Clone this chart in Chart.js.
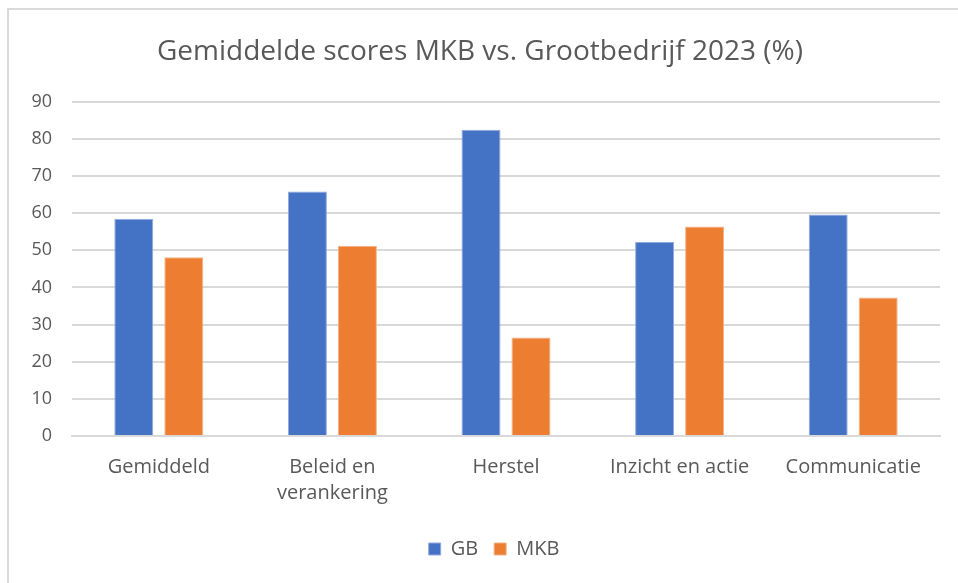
<!DOCTYPE html>
<html>
<head>
<meta charset="utf-8">
<script src="https://cdn.jsdelivr.net/npm/chart.js@4"></script>
<style>
  html, body { margin: 0; padding: 0; background: #fff; overflow: hidden; }
  #frame { position: absolute; left: 7px; top: 8px; width: 960px; height: 600px; border: 2px solid #d9d9d9; box-sizing: border-box; }
  #wrap { position: absolute; left: 0; top: 0; width: 958px; height: 583px; }
</style>
</head>
<body>
<div id="frame"></div>
<div id="wrap"><canvas id="chart1"></canvas></div>
<script>
"use strict";
// categorieën en scores
var categories = ["Gemiddeld", ["Beleid en", "verankering"], "Herstel", "Inzicht en actie", "Communicatie"];
var gbScores = [58.5, 65.8, 82.4, 52.2, 59.6];
var mkbScores = [48.1, 51.2, 26.5, 56.4, 37.3];
var yTicks = [0, 10, 20, 30, 40, 50, 60, 70, 80, 90];

var fontFam = "'Open Sans', sans-serif";
var grey = "#595959";

// legenda iets naar rechts, zoals in Excel
var legendShift = {
    id: 'legendShift',
    afterLayout: function (chart) {
        chart.legend.left += 14;
        chart.legend.right += 14;
    }
};

var ctx = document.getElementById("chart1");
var chart1 = new Chart(ctx, {
    type: 'bar',
    data: {
        labels: categories,
        datasets: [{
            label: "GB",
            data: gbScores,
            backgroundColor: "#4472c4",
            borderColor: "#8faadc",
            borderWidth: 1,
            categoryPercentage: 0.576,
            barPercentage: 0.78
        }, {
            label: "MKB",
            data: mkbScores,
            backgroundColor: "#ed7d31",
            borderColor: "#f4b183",
            borderWidth: 1,
            categoryPercentage: 0.576,
            barPercentage: 0.78
        }]
    },
    plugins: [legendShift],
    options: {
        responsive: true,
        maintainAspectRatio: false,
        animation: false,
        layout: { padding: { left: 20, right: 18, top: 20, bottom: 14 } },
        plugins: {
            title: {
                display: true,
                text: "Gemiddelde scores MKB vs. Grootbedrijf 2023 (%)",
                color: grey,
                font: { family: fontFam, size: 28, weight: 'normal' },
                padding: { top: 15, bottom: 33 }
            },
            legend: {
                position: 'bottom',
                labels: {
                    color: grey,
                    font: { family: fontFam, size: 20 },
                    boxWidth: 12,
                    boxHeight: 12,
                    padding: 16
                }
            },
            tooltip: { enabled: false }
        },
        scales: {
            x: {
                grid: { display: false, drawTicks: false },
                border: { display: true, color: "#d9d9d9", width: 2 },
                ticks: {
                    color: grey,
                    font: { family: fontFam, size: 20, lineHeight: 1.3 },
                    padding: 18,
                    maxRotation: 0
                },
                afterFit: function (axis) { axis.height = 87; }
            },
            y: {
                min: 0,
                max: 90,
                afterBuildTicks: function (axis) {
                    axis.ticks = yTicks.map(function (v) { return { value: v }; });
                },
                grid: { color: "#d9d9d9", lineWidth: 2, drawTicks: false },
                border: { display: false },
                ticks: {
                    color: grey,
                    font: { family: fontFam, size: 18 },
                    padding: 20
                },
                afterFit: function (axis) { axis.width = 52; }
            }
        }
    }
});
</script>
</body>
</html>
